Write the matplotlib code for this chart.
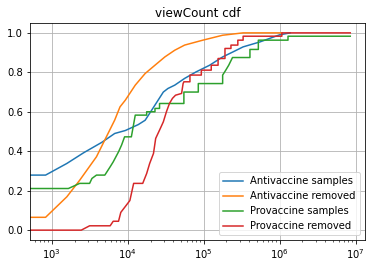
import numpy as np
import matplotlib
matplotlib.use('Agg')
import matplotlib.pyplot as plt

# viewCount cdf - 값은 그림에서 읽은 추정치
labels = ['Antivaccine samples', 'Antivaccine removed', 'Provaccine samples', 'Provaccine removed']

# Antivaccine samples
anti_x = [100, 832, 1585, 2630, 4570, 6760, 9330, 13800, 17000, 22900, 29500, 33900, 41700,
          56200, 79400, 120000, 178000, 245000, 331000, 550000, 1000000, 1380000]
anti_y = [0.279, 0.279, 0.338, 0.392, 0.445, 0.49, 0.505, 0.535, 0.557, 0.634, 0.70, 0.718, 0.735,
          0.769, 0.802, 0.836, 0.878, 0.904, 0.929, 0.954, 0.99, 1.0]

# Antivaccine removed
anti_rm_x = [100, 832, 1585, 2340, 3890, 5250, 6760, 7940, 9330, 12600, 17000, 22900, 30900,
             41700, 56200, 97700, 178000, 331000, 1070000]
anti_rm_y = [0.065, 0.065, 0.169, 0.253, 0.372, 0.473, 0.558, 0.625, 0.659, 0.735, 0.794, 0.836, 0.878,
             0.912, 0.938, 0.963, 0.988, 1.0, 1.0]

# Provaccine samples (계단 모양)
pro_x = [100, 1660, 2340, 3160, 3390, 3890, 5010, 5890, 6460, 7590, 8320, 9120, 11200, 12600,
         17800, 17800, 22900, 22900, 26300, 26300, 55000, 55000, 85100, 85100, 178000, 178000,
         195000, 214000, 240000, 407000, 407000, 525000, 525000, 1290000, 1290000, 8510000]
pro_y = [0.211, 0.211, 0.237, 0.237, 0.262, 0.279, 0.279, 0.321, 0.346, 0.397, 0.431, 0.473, 0.473, 0.583,
         0.583, 0.60, 0.60, 0.617, 0.617, 0.642, 0.642, 0.70, 0.70, 0.743, 0.743, 0.786,
         0.81, 0.836, 0.875, 0.875, 0.916, 0.916, 0.963, 0.963, 0.983, 0.983]

# Provaccine removed
pro_rm_x = [100, 2455, 3160, 5890, 6460, 7590, 8130, 9330, 10700, 12000, 15800, 17800, 19500,
            21900, 23400, 26900, 29500, 32400, 35500, 38900, 42700, 51300, 53700, 55000,
            66100, 66100, 93300, 93300, 126000, 126000, 155000, 155000, 191000, 191000,
            229000, 229000, 282000, 282000, 331000, 331000, 1070000, 1070000, 8510000]
pro_rm_y = [0.0, 0.0, 0.022, 0.022, 0.045, 0.045, 0.09, 0.12, 0.15, 0.237, 0.237, 0.287, 0.338,
            0.389, 0.465, 0.515, 0.549, 0.60, 0.642, 0.668, 0.684, 0.693, 0.743, 0.752,
            0.752, 0.786, 0.786, 0.811, 0.811, 0.836, 0.836, 0.87, 0.87, 0.921,
            0.921, 0.938, 0.938, 0.963, 0.963, 0.983, 0.983, 1.0, 1.0]

fig = plt.figure(figsize=(372 / 72, 268 / 72), dpi=72)
ax = fig.add_subplot(111)
fig.subplots_adjust(left=30 / 372, right=365 / 372, top=1 - 23 / 268, bottom=1 - 240 / 268)

ax.plot(anti_x, anti_y, label=labels[0])
ax.plot(anti_rm_x, anti_rm_y, label=labels[1])
ax.plot(pro_x, pro_y, label=labels[2])
ax.plot(pro_rm_x, pro_rm_y, label=labels[3])

ax.set_xscale('log')
ax.set_xlim(519, 1.33e7)
ax.set_ylim(-0.05, 1.05)
ax.set_title('viewCount cdf')
ax.grid(True)
ax.legend(loc='lower right')

fig.savefig('out.png', dpi=72)
